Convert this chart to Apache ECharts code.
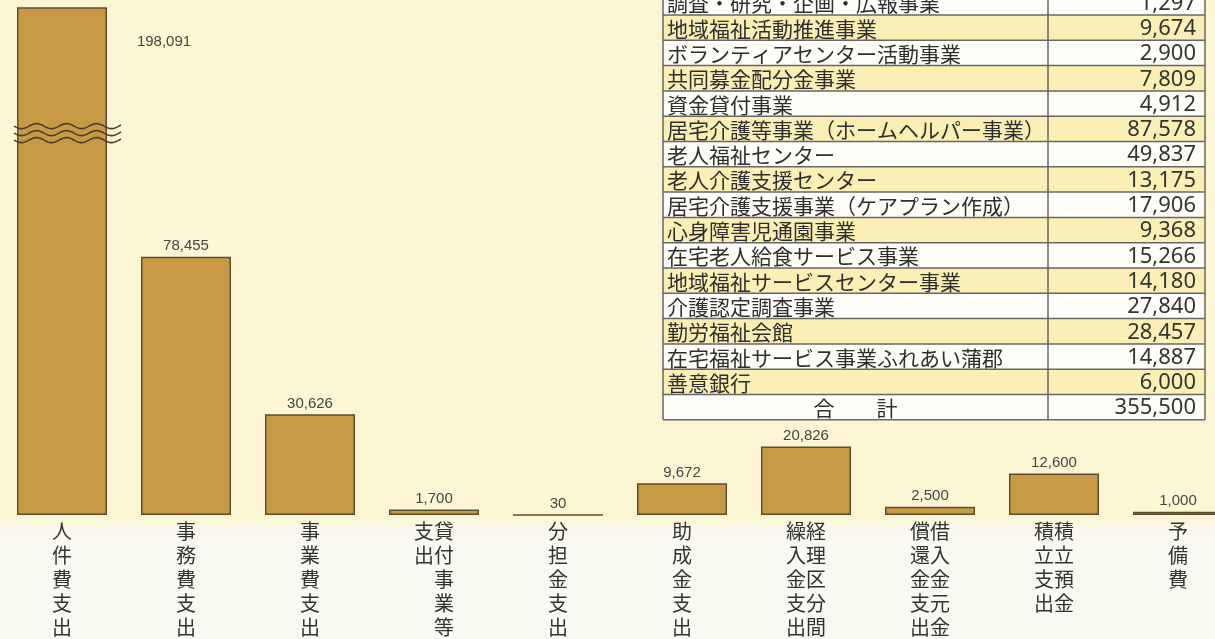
<!DOCTYPE html>
<html>
<head>
<meta charset="utf-8">
<script src="https://cdn.jsdelivr.net/npm/echarts@6/dist/echarts.min.js"></script>
<style>
  html, body { margin: 0; padding: 0; overflow: hidden; }
  body {
    width: 1215px; height: 639px;
    background: linear-gradient(to bottom, #fdf6d4 0, #fdf6d4 516px, #f9f8f1 534px, #f9f8f1 100%);
  }
  /* 最後の棒が右端で切れるので、描画領域を少し広く取る */
  #chart { width: 1260px; height: 639px; }
</style>
</head>
<body>
<div id="chart"></div>
<script>
// 支出の内訳（棒グラフ）
const categories = [
  "人件費支出", "事務費支出", "事業費支出", "貸付事業等支出", "分担金支出",
  "助成金支出", "経理区分間繰入金支出", "借入金元金償還金支出", "積立預金積立支出", "予備費"
];
const values = [198091, 78455, 30626, 1700, 30, 9672, 20826, 2500, 12600, 1000];
// 縦書きラベルを2列にする位置（0なら1列）
const splitAt = [0, 0, 0, 5, 0, 0, 5, 5, 4, 0];

// 事業別の表
const tableNames = [
  "調査・研究・企画・広報事業", "地域福祉活動推進事業", "ボランティアセンター活動事業",
  "共同募金配分金事業", "資金貸付事業", "居宅介護等事業（ホームヘルパー事業）",
  "老人福祉センター", "老人介護支援センター", "居宅介護支援事業（ケアプラン作成）",
  "心身障害児通園事業", "在宅老人給食サービス事業", "地域福祉サービスセンター事業",
  "介護認定調査事業", "勤労福祉会館", "在宅福祉サービス事業ふれあい蒲郡", "善意銀行"
];
const tableValues = [1297, 9674, 2900, 7809, 4912, 87578, 49837, 13175, 17906, 9368, 15266, 14180, 27840, 28457, 14887, 6000];
const totalLabel = "合　　計";
const totalValue = 355500;

const chart = echarts.init(document.getElementById("chart"));

function verticalLabel(name, idx) {
  const k = splitAt[idx];
  if (!k) {
    return name.split("").join("\n");
  }
  const right = name.slice(0, k).split("");
  const left = name.slice(k).split("");
  const rows = Math.max(right.length, left.length);
  const out = [];
  for (let i = 0; i < rows; i++) {
    out.push((left[i] || "　") + (right[i] || "　"));
  }
  return out.join("\n");
}

const fmt = (v) => v.toLocaleString("en-US");

// 表をgraphicで組み立てる
function buildTable() {
  const left = 663, mid = 1048, right = 1205;
  const rowH = 25.3;
  const top = -10.3;
  const lineColor = "#666";
  const names = tableNames.concat([totalLabel]);
  const vals = tableValues.concat([totalValue]);
  const children = [];
  names.forEach((n, i) => {
    const y = top + i * rowH;
    children.push({
      type: "rect",
      shape: { x: left, y: y, width: right - left, height: rowH },
      style: { fill: i % 2 === 1 ? "#fcefb6" : "#fffef8" },
      silent: true
    });
    const isTotal = i === names.length - 1;
    children.push({
      type: "text",
      style: {
        text: n,
        x: isTotal ? (left + mid) / 2 : left + 4,
        y: y + rowH / 2 + 1,
        align: isTotal ? "center" : "left",
        verticalAlign: "middle",
        font: '21px "Noto Sans CJK JP"',
        fill: "#2e2e2e"
      },
      silent: true
    });
    children.push({
      type: "text",
      style: {
        text: fmt(vals[i]),
        x: right - 9,
        y: y + rowH / 2 + 1,
        align: "right",
        verticalAlign: "middle",
        font: '22px "Noto Sans"',
        fill: "#333"
      },
      silent: true
    });
  });
  for (let i = 0; i <= names.length; i++) {
    const y = top + i * rowH;
    children.push({
      type: "line",
      shape: { x1: left, y1: y, x2: right, y2: y },
      style: { stroke: lineColor, lineWidth: 1.5 },
      silent: true
    });
  }
  [left, mid, right].forEach((x) => {
    children.push({
      type: "line",
      shape: { x1: x, y1: top, x2: x, y2: top + names.length * rowH },
      style: { stroke: lineColor, lineWidth: 1.5 },
      silent: true
    });
  });
  return children;
}

const option = {
  animation: false,
  backgroundColor: "transparent",
  grid: { left: 0, width: 1240, top: 8, bottom: 124, containLabel: false },
  xAxis: {
    type: "category",
    data: categories,
    axisLine: { show: false },
    axisTick: { show: false },
    axisLabel: {
      interval: 0,
      margin: 4,
      fontSize: 20,
      lineHeight: 24,
      color: "#333",
      fontFamily: "Noto Sans CJK JP",
      verticalAlign: "top",
      formatter: verticalLabel
    }
  },
  yAxis: {
    type: "value",
    min: 0,
    max: 154000,
    show: false,
    splitLine: { show: false }
  },
  series: [{
    type: "bar",
    barWidth: 90,
    clip: true,
    data: values.map((v, i) => {
      if (i === 0) {
        return {
          value: v,
          label: { position: [147, 35], align: "center", verticalAlign: "middle" }
        };
      }
      return v;
    }),
    itemStyle: { color: "#c99a45", borderColor: "#5e4c2c", borderWidth: 1.5 },
    label: {
      show: true,
      position: "top",
      distance: 3,
      fontSize: 15,
      fontFamily: "Liberation Sans",
      color: "#444",
      formatter: (p) => fmt(p.value)
    }
  }],
  graphic: buildTable()
};

chart.setOption(option);

// 省略記号（波線）を1本目の棒に重ねる
const breakAt = 116000;
const cx = chart.convertToPixel({ xAxisIndex: 0 }, categories[0]);
const cy = chart.convertToPixel({ yAxisIndex: 0 }, breakAt);
const waves = [];
[-7, 0, 7].forEach((dy) => {
  const pts = [];
  for (let x = -48; x <= 59; x += 1) {
    pts.push([cx + x, cy + dy + 2.5 * Math.sin((x + 48) / 30 * 2 * Math.PI)]);
  }
  waves.push({
    type: "polyline",
    shape: { points: pts },
    style: { stroke: "#4a3d28", lineWidth: 1.6, fill: null },
    silent: true,
    z: 10
  });
});
chart.setOption({ graphic: buildTable().concat(waves) }, { replaceMerge: ["graphic"] });
</script>
</body>
</html>
